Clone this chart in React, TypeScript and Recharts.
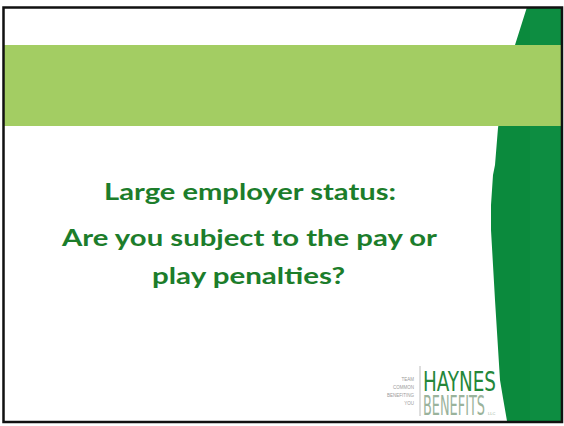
import { ComposedChart, Area, XAxis, YAxis, ReferenceArea, ReferenceLine, Customized } from "recharts";

// right-hand dark green shape: left edge traced as a span of y for each x
const edgeX = [491, 493, 495, 498, 500, 503, 507, 511, 515, 521, 527, 563];
const edgeTop = [205, 175, 165, 128, 115, 100, 83, 64, 45, 26, 7, 7];
const edgeBottom = [230, 265, 300, 348, 380, 398, 421, 421, 421, 421, 421, 421];

// title lines: text, left x, baseline y, width
const titleLines = ["Large employer status:", "Are you subject to the pay or", "play penalties?"];
const titleX = [104, 62, 152];
const titleY = [200, 246, 284];
const titleW = [292, 375, 193];

const logoTag = ["TEAM", "COMMON", "BENEFITING", "YOU"];

const data = edgeX.map((x, i) => ({ x, span: [edgeTop[i], edgeBottom[i]] }));

const Texts = () => (
	<g>
		{titleLines.map((t, i) => (
			<text
				key={t}
				x={titleX[i]}
				y={titleY[i]}
				textLength={titleW[i]}
				lengthAdjust="spacingAndGlyphs"
				fill="#1c7d2b"
				fontFamily="Lato, 'Open Sans', sans-serif"
				fontWeight={700}
				fontSize={22}
			>
				{t}
			</text>
		))}
		{logoTag.map((t, i) => (
			<text
				key={t}
				x={414}
				y={381 + i * 8}
				textAnchor="end"
				fill="#9a9a9a"
				fontFamily="'Liberation Sans Narrow', sans-serif"
				fontSize={4.5}
			>
				{t}
			</text>
		))}
		<text
			x={423}
			y={391}
			textLength={73}
			lengthAdjust="spacingAndGlyphs"
			fill="#24873a"
			fontFamily="'Liberation Sans Narrow', 'DejaVu Sans Condensed', sans-serif"
			fontSize={27}
		>
			HAYNES
		</text>
		<text
			x={423}
			y={415}
			textLength={62}
			lengthAdjust="spacingAndGlyphs"
			fill="#9ab39c"
			fontFamily="'Liberation Sans Narrow', 'DejaVu Sans Condensed', sans-serif"
			fontWeight={300}
			fontSize={27}
		>
			BENEFITS
		</text>
		<text x={488} y={415} fill="#9ab39c" fontFamily="sans-serif" fontSize={4}>
			LLC
		</text>
	</g>
);

export default function App() {
	return (
		<div style={{ position: "absolute", left: 0, top: 0, background: "#fff" }}>
			<ComposedChart width={564} height={426} data={data} margin={{ top: 0, right: 0, bottom: 0, left: 0 }}>
				<XAxis type="number" dataKey="x" domain={[0, 564]} hide allowDataOverflow />
				<YAxis type="number" domain={[0, 426]} reversed hide width={0} allowDataOverflow />
				<Area
					type="linear"
					dataKey="span"
					stroke="none"
					fill="#0b8a3d"
					fillOpacity={1}
					dot={false}
					activeDot={false}
					isAnimationActive={false}
				/>
				<ReferenceArea x1={530} x2={561} y1={7} y2={421} fill="#10934a" fillOpacity={0.35} stroke="none" />
				<ReferenceArea x1={4} x2={561} y1={45} y2={126} fill="#a3cd63" fillOpacity={1} stroke="none" />
				<ReferenceLine segment={[{ x: 420, y: 366 }, { x: 420, y: 416 }]} stroke="#bcbcbc" strokeWidth={1} />
				<ReferenceArea x1={3.5} x2={562} y1={7.5} y2={422} fill="none" stroke="#111" strokeWidth={2.5} />
				<Customized component={Texts} />
			</ComposedChart>
		</div>
	);
}
